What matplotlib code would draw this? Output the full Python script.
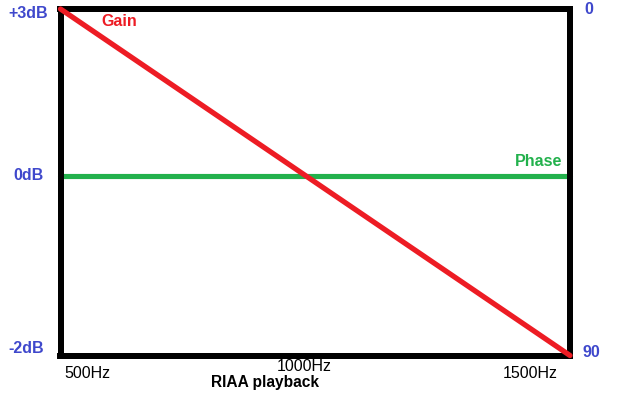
import numpy as np
import matplotlib
matplotlib.use("Agg")
import matplotlib.pyplot as plt
from matplotlib.transforms import blended_transform_factory

plt.rcParams['font.family'] = ['Liberation Sans', 'DejaVu Sans']

# ---- data ----
freq = [500, 1500]              # Hz, ends of the sketch
gain_db = [3, -2]               # gain line (dB)
phase_deg = [43.4, 43.4]        # phase line (degrees, right axis)
gain_ticks = [3, 0, -2]
gain_tick_labels = ['+3dB', '0dB', '-2dB']
phase_ticks = [0, 90]
phase_tick_labels = ['0', '90']
freq_ticks = [500, 1000, 1500]
freq_tick_labels = ['500Hz', '1000Hz', '1500Hz']
xlabel = 'RIAA playback'

RED = '#ED1C24'
GREEN = '#22B14C'
BLUE = '#3F48CC'

W, H = 644, 403
fig = plt.figure(figsize=(W / 100, H / 100), dpi=100)
L, R, T, B = 60.5, 570, 9, 355.5
ax = fig.add_axes([L / W, 1 - B / H, (R - L) / W, (B - T) / H])

# hand-drawn (non-linear) dB scale: 0dB sits a bit above the middle
zero_frac = 0.518
def fwd(v):
    return np.interp(v, [-2, 0, 3], [0, zero_frac, 1])
def inv(v):
    return np.interp(v, [0, zero_frac, 1], [-2, 0, 3])
ax.set_yscale('function', functions=(fwd, inv))
ax.set_xlim(500, 1500)
ax.set_ylim(-2, 3)

ax2 = ax.twinx()
ax2.set_ylim(90, 0)

for a in (ax, ax2):
    for s in a.spines.values():
        s.set_linewidth(4.3)
        s.set_color('black')
    a.set_xticks([])
    a.set_yticks([])

ax2.plot(freq, phase_deg, color=GREEN, lw=3.7, solid_capstyle='round',
         clip_on=False, zorder=3)
ax.plot(freq, gain_db, color=RED, lw=3.8, solid_capstyle='round',
        clip_on=False, zorder=3)
ax.set_zorder(ax2.get_zorder() + 1)
ax.patch.set_visible(False)

fs = 11.5
def px(a, x, y, dx, dy, s, **kw):
    a.annotate(s, xy=(x, y), xycoords=kw.pop('xycoords', 'data'),
               xytext=(dx, dy), textcoords='offset pixels',
               fontsize=kw.pop('fontsize', fs), annotation_clip=False, **kw)

tl = blended_transform_factory(ax.transAxes, ax.transData)
tr = blended_transform_factory(ax2.transAxes, ax2.transData)

# left gain labels
offs_left = {3: (-52.5, -4, 'left'), 0: (-47.5, 1, 'left'), -2: (-52.5, 7, 'left')}
for v, lab in zip(gain_ticks, gain_tick_labels):
    dx, dy, ha = offs_left[v]
    px(ax, 0, v, dx, dy, lab, xycoords=tl, ha=ha, va='center',
       color=BLUE, fontweight='bold')

# right phase labels
offs_right = {0: (14, 0), 90: (13, 3)}
for v, lab in zip(phase_ticks, phase_tick_labels):
    dx, dy = offs_right[v]
    px(ax2, 1, v, dx, dy, lab, xycoords=tr, ha='left', va='center',
       color=BLUE, fontweight='bold')

# frequency labels
bl = blended_transform_factory(ax.transData, ax.transAxes)
offs_x = {500: (3.5, -17.5, 'left'), 1000: (-11.5, -11, 'center'),
          1500: (-12, -18.5, 'right')}
for f, lab in zip(freq_ticks, freq_tick_labels):
    dx, dy, ha = offs_x[f]
    px(ax, f, 0, dx, dy, lab, xycoords=bl, ha=ha, va='center', color='black')

px(ax, 0.5, 0, -50, -27, xlabel, xycoords='axes fraction', ha='center',
   va='center', color='black', fontweight='bold', fontsize=11.2)

# series names
px(ax, 0, 1, 41, -12.5, 'Gain', xycoords='axes fraction', ha='left',
   va='center', color=RED, fontweight='bold')
px(ax2, 1, phase_deg[0], -8, 14.5, 'Phase', xycoords=tr, ha='right',
   va='center', color=GREEN, fontweight='bold')

fig.savefig('out.png', dpi=100)
